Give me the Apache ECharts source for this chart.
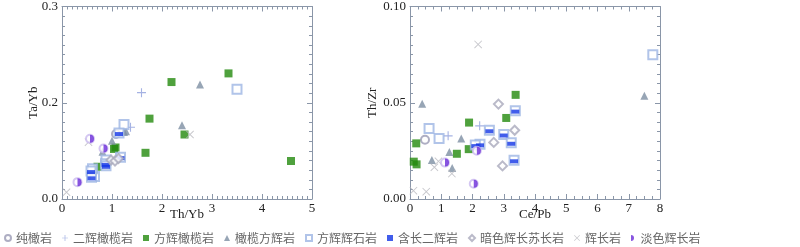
<!DOCTYPE html>
<html>
<head>
<meta charset="utf-8">
<script src="https://cdn.jsdelivr.net/npm/echarts@6/dist/echarts.min.js"></script>
<style>
  html, body { margin: 0; padding: 0; background: #fff; }
  #chart { width: 800px; height: 247px; }
</style>
</head>
<body>
<div id="chart"></div>
<script>
// tick labels (left y axis labels as printed on the figure)
var leftYTicks = ['0.0', '0.2', '0.3'];
var rightYTicks = ['0.00', '0.05', '0.10'];

var seriesNames = ['纯橄岩', '二辉橄榄岩', '方辉橄榄岩', '橄榄方辉岩', '方辉辉石岩',
    '含长二辉岩', '暗色辉长苏长岩', '辉长岩', '淡色辉长岩'];

// left panel: Th/Yb vs Ta/Yb
var duniteL = [[1.08, 0.135]];
var lherzoliteL = [[1.59, 0.221], [1.37, 0.149]];
var harzburgiteL = [[3.33, 0.261], [2.19, 0.243], [1.75, 0.167], [2.45, 0.134], [1.04, 0.104],
    [1.07, 0.107], [1.67, 0.096], [0.71, 0.067], [4.58, 0.079]];
var olOrthoL = [[2.76, 0.238], [2.40, 0.153], [1.28, 0.141], [1.24, 0.139], [1.0, 0.121], [0.81, 0.098]];
var orthoPyrL = [[3.5, 0.228], [1.24, 0.155], [0.88, 0.081], [0.65, 0.047], [0.61, 0.063]];
var plWebsteriteL = [[1.14, 0.137], [1.17, 0.087], [0.87, 0.073], [0.88, 0.069], [0.58, 0.058], [0.59, 0.045]];
var melaNoriteL = [[0.98, 0.081], [1.06, 0.079], [1.13, 0.084]];
var gabbroL = [[0.09, 0.014], [2.56, 0.134], [0.53, 0.118]];
var leucoGabbroL = [[0.56, 0.125], [0.83, 0.105], [0.31, 0.035]];

// right panel: Ce/Pb vs Th/Zr
var duniteR = [[0.48, 0.0308]];
var lherzoliteR = [[1.22, 0.0328], [2.23, 0.038]];
var harzburgiteR = [[3.38, 0.0541], [3.08, 0.0421], [1.89, 0.0397], [0.20, 0.0289], [0.12, 0.0194],
    [0.21, 0.018], [1.50, 0.0235], [1.88, 0.0259]];
var olOrthoR = [[0.39, 0.0495], [7.50, 0.0536], [1.64, 0.0314], [1.26, 0.0244], [0.70, 0.0203], [1.35, 0.0161]];
var orthoPyrR = [[7.77, 0.0749], [0.61, 0.0366], [0.93, 0.0314]];
var plWebsteriteR = [[3.37, 0.0459], [2.54, 0.0357], [3.0, 0.0335], [3.24, 0.0292], [2.24, 0.0284],
    [2.09, 0.028], [3.33, 0.0201]];
var melaNoriteR = [[2.83, 0.0493], [3.35, 0.0357], [2.68, 0.0294], [2.96, 0.0172]];
var gabbroR = [[2.18, 0.0803], [0.11, 0.0043], [0.52, 0.0038], [0.78, 0.0165], [0.91, 0.0196], [1.34, 0.0132]];
var leucoGabbroR = [[1.12, 0.0189], [2.14, 0.0251], [2.04, 0.0079]];

var frame = '#8a96a8';
var plusPath = 'path://M4.4,0H5.6V10H4.4ZM0,4.4H10V5.6H0Z';
var crossPath = 'path://M0,0.8L0.8,0L10,9.2L9.2,10ZM0,9.2L9.2,0L10,0.8L0.8,10Z';
var halfPath = 'path://M0,0A1,1 0 0,1 0,2Z';

function axisBase(extra) {
    var o = {
        nameMoveOverlap: false,
        axisLine: {onZero: false, lineStyle: {color: frame, width: 1}},
        axisTick: {inside: true, length: 5, lineStyle: {color: frame}},
        minorTick: {show: true, length: 3, lineStyle: {color: frame}},
        splitLine: {show: false},
        axisLabel: {fontFamily: 'Liberation Serif', fontSize: 13, color: '#222'},
        nameTextStyle: {fontFamily: 'Liberation Serif', fontSize: 13, color: '#222'}
    };
    for (var k in extra) o[k] = extra[k];
    return o;
}

function xAx(grid, pos, max, split, name) {
    var o = axisBase({type: 'value', gridIndex: grid, position: pos, min: 0, max: max, interval: 1});
    o.minorTick.splitNumber = split;
    if (pos === 'top') {
        o.axisLabel = {show: false};
    } else {
        o.axisLabel.margin = 3;
        o.name = name;
        o.nameLocation = 'middle';
        o.nameGap = 9;
    }
    return o;
}

function yAx(grid, pos, max, interval, labels, name, gap) {
    var o = axisBase({type: 'value', gridIndex: grid, position: pos, min: 0, max: max, interval: interval});
    o.minorTick.splitNumber = 10;
    if (pos === 'right') {
        o.axisLabel = {show: false};
    } else {
        o.axisLabel.margin = 4;
        o.axisLabel.formatter = function (v, i) { return labels[i]; };
        o.name = name;
        o.nameLocation = 'middle';
        o.nameGap = gap;
    }
    return o;
}

function sc(name, data, xi, yi, symbol, size, style, extra) {
    var s = {
        type: 'scatter', name: name, data: data, xAxisIndex: xi, yAxisIndex: yi,
        symbol: symbol, symbolSize: size, itemStyle: style, silent: true
    };
    for (var k in extra) s[k] = extra[k];
    return s;
}

function panel(xi, yi, d) {
    return [
        sc('纯橄岩', d[0], xi, yi, 'emptyCircle', 8, {color: '#9a9ab4', borderWidth: 1}),
        sc('二辉橄榄岩', d[1], xi, yi, plusPath, 9, {color: '#8f9fdc'}),
        sc('方辉橄榄岩', d[2], xi, yi, 'rect', 8, {color: '#238a0c'}),
        sc('橄榄方辉岩', d[3], xi, yi, 'triangle', 8, {color: '#7d8fa3'}),
        sc('方辉辉石岩', d[4], xi, yi, 'emptyRect', 9, {color: '#9db5e3', borderWidth: 1}),
        sc('含长二辉岩 ', d[5], xi, yi, 'emptyRect', 9, {color: '#9db5e3', borderWidth: 1}),
        sc('含长二辉岩', d[5], xi, yi, 'rect', [8, 4], {color: '#1234e6'}, {symbolOffset: [0, 1]}),
        sc('暗色辉长苏长岩', d[6], xi, yi, 'emptyDiamond', 9, {color: '#a9a9bb', borderWidth: 1}),
        sc('辉长岩', d[7], xi, yi, crossPath, 8, {color: '#b9b9bf'}),
        sc('淡色辉长岩 ', d[8], xi, yi, 'emptyCircle', 8, {color: '#c9b9ef', borderWidth: 1}),
        sc('淡色辉长岩', d[8], xi, yi, halfPath, [4, 8], {color: '#6a2ad8'}, {symbolOffset: [2, 0]})
    ];
}

var chart = echarts.init(document.getElementById('chart'), null, {renderer: 'canvas'});

var legendIcons = {
    '纯橄岩': 'emptyCircle',
    '二辉橄榄岩': plusPath,
    '方辉橄榄岩': 'rect',
    '橄榄方辉岩': 'triangle',
    '方辉辉石岩': 'emptyRect',
    '含长二辉岩': 'rect',
    '暗色辉长苏长岩': 'emptyDiamond',
    '辉长岩': crossPath,
    '淡色辉长岩': 'path://M1,0A1,1 0 0,1 1,2Z'
};

var option = {
    animation: false,
    grid: [
        {left: 62, top: 5, width: 250, height: 194},
        {left: 410, top: 5, width: 250, height: 194}
    ],
    xAxis: [
        xAx(0, 'bottom', 5, 10, 'Th/Yb'),
        xAx(0, 'top', 5, 10),
        xAx(1, 'bottom', 8, 4, 'Ce/Pb'),
        xAx(1, 'top', 8, 4)
    ],
    yAxis: [
        yAx(0, 'left', 0.4, 0.2, leftYTicks, 'Ta/Yb', 22),
        yAx(0, 'right', 0.4, 0.2),
        yAx(1, 'left', 0.1, 0.05, rightYTicks, 'Th/Zr', 31),
        yAx(1, 'right', 0.1, 0.05)
    ],
    legend: {
        left: 4, top: 232, padding: 0,
        itemWidth: 6, itemHeight: 6, itemGap: 10,
        textStyle: {fontFamily: 'Noto Sans CJK SC', fontSize: 12, color: '#666'},
        data: seriesNames.map(function (n) { return {name: n, icon: legendIcons[n]}; })
    },
    series: [].concat(
        panel(0, 0, [duniteL, lherzoliteL, harzburgiteL, olOrthoL, orthoPyrL, plWebsteriteL, melaNoriteL, gabbroL, leucoGabbroL]),
        panel(2, 2, [duniteR, lherzoliteR, harzburgiteR, olOrthoR, orthoPyrR, plWebsteriteR, melaNoriteR, gabbroR, leucoGabbroR])
    )
};

chart.setOption(option);
</script>
</body>
</html>
